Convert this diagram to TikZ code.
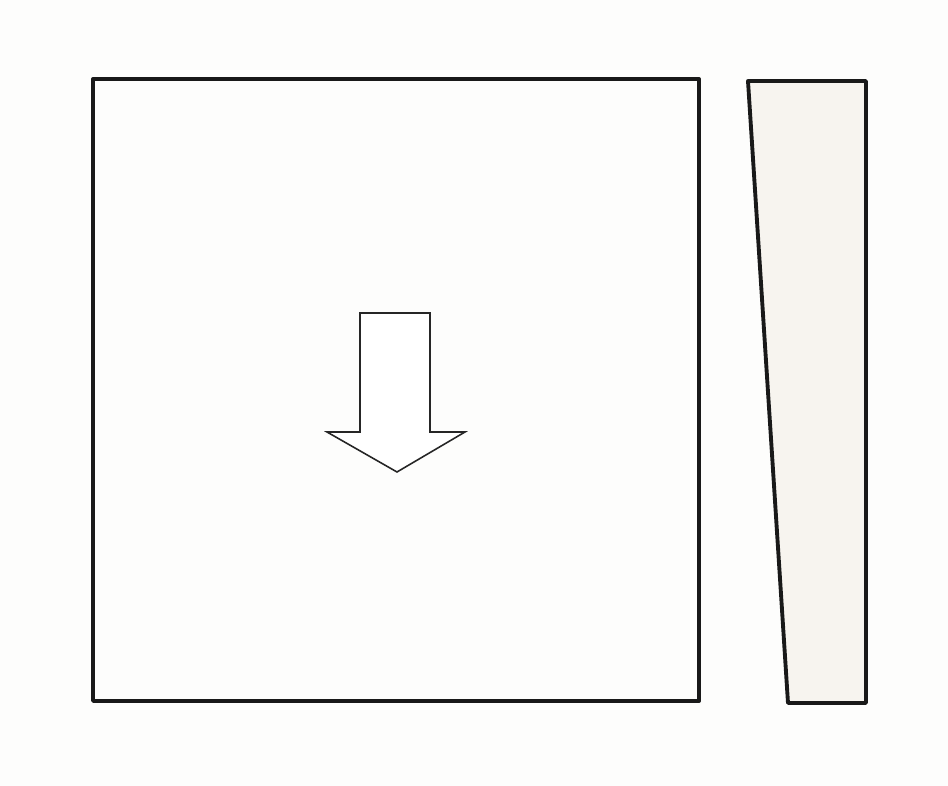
\documentclass[tikz,border=0pt]{standalone}
\usepackage{tikz}
\usetikzlibrary{calc}
\definecolor{paper}{HTML}{FDFDFC}
\definecolor{wedgefill}{HTML}{F7F4EF}
\begin{document}
\begin{tikzpicture}[
    x=0.02cm, y=-0.02cm,
    frame/.style={draw=black!90, line width=2.2pt, line join=round},
    arrowshape/.style={draw=black!85, line width=0.9pt, fill=white, line join=miter}
]
\fill[paper] (0,0) rectangle (948,786);
\useasboundingbox (0,0) rectangle (948,786);
% square block
\draw[frame] (93,79) rectangle (699,701);
% down arrow
\draw[arrowshape] (360,313) -- (430,313) -- (430,432) -- (465,432) -- (397,472)
    -- (327,432) -- (360,432) -- cycle;
% wedge
\draw[frame, fill=wedgefill] (748,81) -- (866,81) -- (866,703) -- (788,703) -- cycle;
\end{tikzpicture}
\end{document}
